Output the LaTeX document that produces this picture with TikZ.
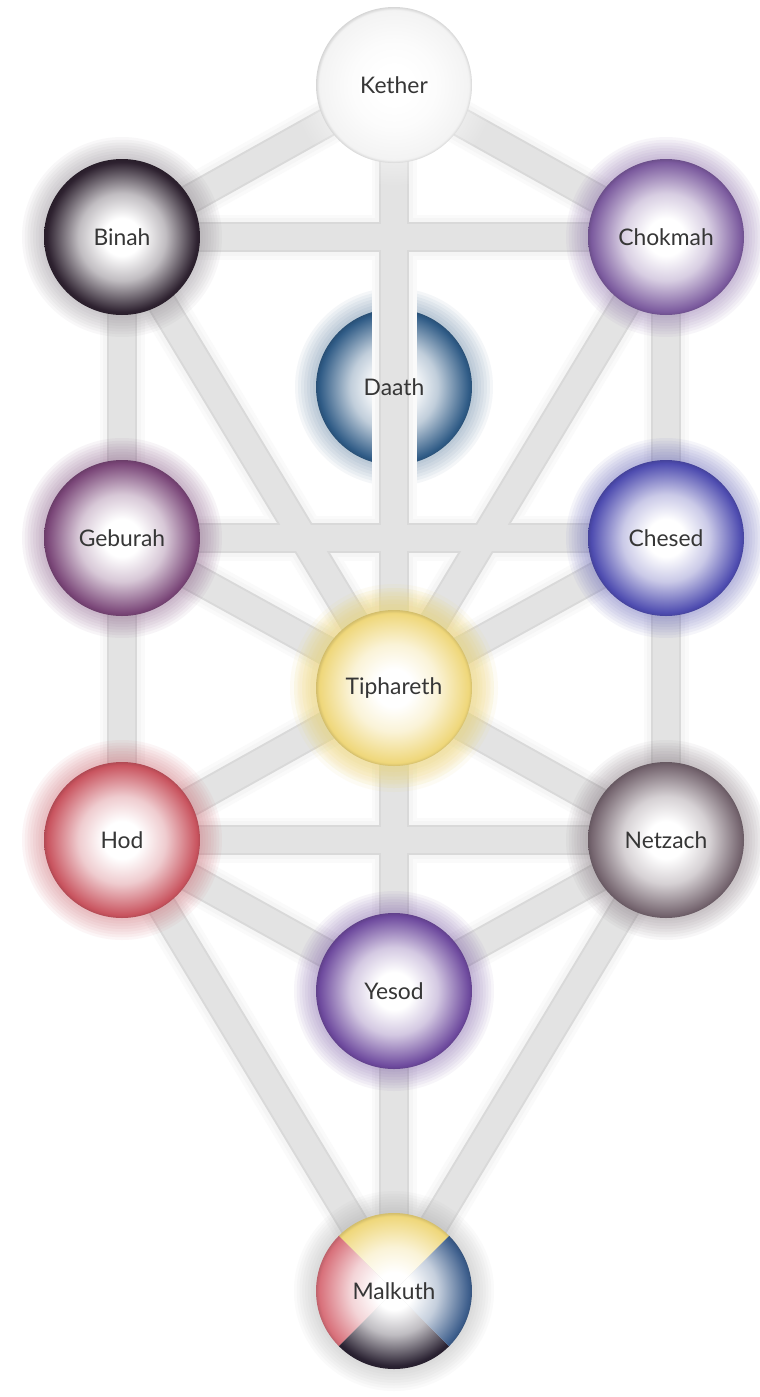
\documentclass[tikz,border=0pt]{standalone}
\usepackage{fontspec}
\newfontfamily\sephfont{Lato}

\pgfdeclarelayer{paper}
\pgfdeclarelayer{bars}
\pgfdeclarelayer{glow}
\pgfsetlayers{paper,bars,glow,main}

\definecolor{labelgray}{HTML}{363636}
\definecolor{ketherc}{HTML}{F3F3F3}
\definecolor{binahc}{HTML}{2E2230}
\definecolor{chokmahc}{HTML}{7B5A9E}
\definecolor{daathc}{HTML}{2F5B86}
\definecolor{geburahc}{HTML}{7A4678}
\definecolor{chesedc}{HTML}{4E4CB0}
\definecolor{tipharethc}{HTML}{EFD77A}
\definecolor{hodc}{HTML}{C9545F}
\definecolor{netzachc}{HTML}{75656F}
\definecolor{yesodc}{HTML}{6E4A9E}
\definecolor{earthred}{HTML}{D8707A}
\definecolor{earthblue}{HTML}{3D5E8C}
\definecolor{earthdark}{HTML}{2A2232}

% white core, coloured rim
\colorlet{sephcol}{white}
\pgfdeclareradialshading[sephcol]{sphere}{\pgfpoint{0bp}{0bp}}{%
  color(0bp)=(white); color(6bp)=(white); color(14bp)=(sephcol!30!white);
  color(20bp)=(sephcol!72!white); color(24bp)=(sephcol);
  color(25bp)=(sephcol!88!black); color(50bp)=(sephcol!88!black)}

\tikzset{
  hue/.code={\colorlet{sephcol}{#1}},
  sephira/.style={circle, minimum size=3.12cm, inner sep=0pt, shading=sphere,
    font=\sephfont\fontsize{13}{15}\selectfont, text=labelgray},
  sephlabel/.style={circle, minimum size=3.12cm, inner sep=0pt,
    font=\sephfont\fontsize{13}{15}\selectfont, text=labelgray},
}

\begin{document}
\begin{tikzpicture}
	\useasboundingbox (0,0) rectangle (15.18,-27.94);
	\begin{pgfonlayer}{paper}
		\fill[white] (0,0) rectangle (15.18,-27.94);
	\end{pgfonlayer}

	% the ten spheres
	\node[sephira, hue=ketherc] (kether) at (7.88,-1.70) {Kether};
	\node[sephira, hue=binahc] (binah) at (2.44,-4.74) {Binah};
	\node[sephira, hue=chokmahc] (chokmah) at (13.32,-4.74) {Chokmah};
	\node[sephlabel] (daath) at (7.88,-7.74) {Daath};
	\node[sephira, hue=geburahc] (geburah) at (2.44,-10.76) {Geburah};
	\node[sephira, hue=chesedc] (chesed) at (13.32,-10.76) {Chesed};
	\node[sephira, hue=tipharethc] (tiphareth) at (7.88,-13.76) {Tiphareth};
	\node[sephira, hue=hodc] (hod) at (2.44,-16.80) {Hod};
	\node[sephira, hue=netzachc] (netzach) at (13.32,-16.80) {Netzach};
	\node[sephira, hue=yesodc] (yesod) at (7.88,-19.82) {Yesod};

	% Malkuth is split in four
	\coordinate (M) at (7.88,-25.82);
	\foreach \a/\c in {45/tipharethc, 135/earthred, 225/earthdark, 315/earthblue} {
		\begin{scope}
			\clip (M) -- ++(\a:1.56) arc[start angle=\a, delta angle=90, radius=1.56] -- cycle;
			\shade[hue=\c, shading=sphere] (M) circle (1.56);
		\end{scope}
	}
	\node[sephlabel] (malkuth) at (M) {Malkuth};

	% Daath sits under the middle path
	\begin{pgfonlayer}{paper}
		\foreach \g in {1,...,7}
			\fill[daathc, opacity=0.05] (daath.center) circle ({1.56+0.06*\g});
		\shade[hue=daathc, shading=sphere] (daath.center) circle (1.56);
	\end{pgfonlayer}

	% the 22 paths
	\begin{pgfonlayer}{bars}
		\foreach \w/\s in {0.90/2, 0.76/4, 0.60/15, 0.52/11}
			\foreach \a/\b in {kether/binah, kether/chokmah, kether/tiphareth,
				binah/chokmah, binah/geburah, binah/tiphareth, chokmah/chesed,
				chokmah/tiphareth, geburah/chesed, geburah/tiphareth,
				chesed/tiphareth, geburah/hod, chesed/netzach, tiphareth/hod,
				tiphareth/netzach, tiphareth/yesod, hod/netzach, hod/yesod,
				netzach/yesod, hod/malkuth, netzach/malkuth, yesod/malkuth}
				\draw[line width=\w cm, draw=black!\s] (\a.center) -- (\b.center);
	\end{pgfonlayer}

	% soft halos
	\begin{pgfonlayer}{glow}
		\foreach \n/\c in {kether/white, binah/binahc!60, chokmah/chokmahc,
			geburah/geburahc, chesed/chesedc, tiphareth/tipharethc, hod/hodc,
			netzach/netzachc, yesod/yesodc, malkuth/black!35}
			\foreach \g in {1,...,8}
				\fill[\c, opacity=0.055] (\n.center) circle ({1.56+0.055*\g});
		\foreach \g in {1,...,6}
			\fill[tipharethc, opacity=0.08] (tiphareth.center) circle ({1.6+0.08*\g});
	\end{pgfonlayer}
\end{tikzpicture}
\end{document}
